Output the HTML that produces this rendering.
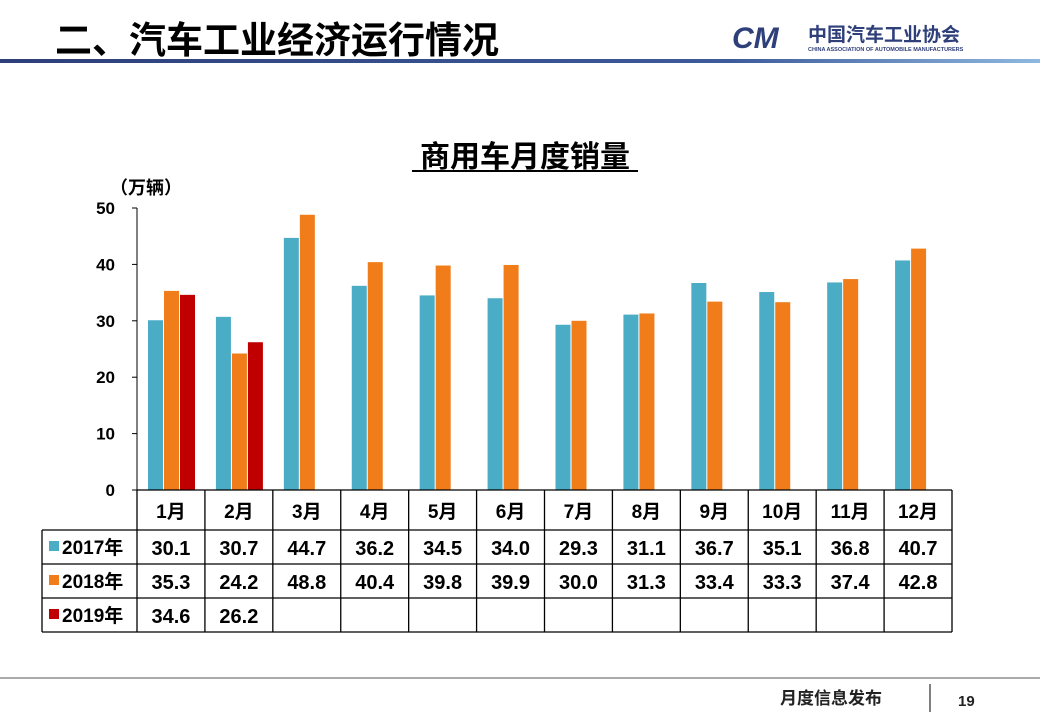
<!DOCTYPE html>
<html><head><meta charset="utf-8"><style>
body{margin:0;width:1040px;height:720px;background:#fff;overflow:hidden;font-family:"Liberation Sans","Noto Sans CJK SC",sans-serif;}
svg text{font-family:"Liberation Sans","Noto Sans CJK SC",sans-serif;font-weight:bold;}
</style></head><body>
<svg width="1040" height="720">
<defs><linearGradient id="hg" x1="0" x2="1"><stop offset="0" stop-color="#2e3f7a"/><stop offset="0.7" stop-color="#3d5a9a"/><stop offset="1" stop-color="#8fb8e0"/></linearGradient></defs>
<text x="55" y="53" font-size="37" fill="#000">二、汽车工业经济运行情况</text>
<rect x="0" y="59" width="1040" height="4" fill="url(#hg)"/>
<g>
<text x="732" y="48" font-size="30" fill="#2e3f7a" font-style="italic">CM</text>
<text x="808" y="41" font-size="19" fill="#2e3f7a">中国汽车工业协会</text>
<text x="808" y="51" font-size="5.5" fill="#2e3f7a" font-weight="normal">CHINA ASSOCIATION OF AUTOMOBILE MANUFACTURERS</text>
</g>
<text x="525" y="167" font-size="30" text-anchor="middle">商用车月度销量</text>
<line x1="412" y1="171" x2="638" y2="171" stroke="#000" stroke-width="2"/>
<text x="110" y="194" font-size="18">（万辆）</text>
<g id="chart"></g>
<line x1="0" y1="678" x2="1040" y2="678" stroke="#555" stroke-width="1"/>
<text x="780" y="704" font-size="17" fill="#222">月度信息发布</text>
<line x1="930" y1="684" x2="930" y2="712" stroke="#555" stroke-width="1.5"/>
<text x="958" y="706" font-size="15" fill="#222">19</text>
</svg>
<script>
const categories=["1月","2月","3月","4月","5月","6月","7月","8月","9月","10月","11月","12月"];
const seriesNames=["2017年","2018年","2019年"];
const colors=["#4bacc6","#f07d1a","#c00000"];
const s2017=[30.1,30.7,44.7,36.2,34.5,34.0,29.3,31.1,36.7,35.1,36.8,40.7];
const s2018=[35.3,24.2,48.8,40.4,39.8,39.9,30.0,31.3,33.4,33.3,37.4,42.8];
const s2019=[34.6,26.2];
const yTicks=[0,10,20,30,40,50];
const NS="http://www.w3.org/2000/svg";
const g=document.getElementById('chart');
const x0=137,x1=952,yTop=208,yBot=490,yMax=50;
const cw=(x1-x0)/categories.length;
const y=v=>yBot-(v/yMax)*(yBot-yTop);
const xc=i=>x0+i*cw;
function mk(t,a,p){const e=document.createElementNS(NS,t);for(const k in a)e.setAttribute(k,a[k]);(p||g).appendChild(e);return e;}
yTicks.forEach(t=>{
 const l=mk('line',{x1:x0-5,x2:x0,y1:y(t),y2:y(t),stroke:'#000'});
 
 
 const tx=mk('text',{x:x0-22,y:y(t)+6,'font-size':17,'text-anchor':'end'});tx.textContent=t;
 
 
});
const all=[s2017,s2018,s2019];
all.forEach((s,si)=>{s.forEach((v,i)=>{
 const r=mk('rect',{x:xc(i)+11+si*16,y:y(v),width:15,height:yBot-y(v),fill:colors[si]});
 
 
});});
mk('line',{x1:x0,x2:x0,y1:yTop,y2:yBot,stroke:'#000'});
const rowY=[490,530,564,598,632];
const tl={stroke:'#000','stroke-width':1.3};
mk('line',Object.assign({x1:x0,x2:x1,y1:490,y2:490},tl));
mk('line',Object.assign({x1:42,x2:x1,y1:530,y2:530},tl));
mk('line',Object.assign({x1:42,x2:x1,y1:564,y2:564},tl));
mk('line',Object.assign({x1:42,x2:x1,y1:598,y2:598},tl));
mk('line',Object.assign({x1:42,x2:x1,y1:632,y2:632},tl));
mk('line',Object.assign({x1:42,x2:42,y1:530,y2:632},tl));
for(let i=0;i<=categories.length;i++)mk('line',Object.assign({x1:xc(i),x2:xc(i),y1:490,y2:632},tl));
categories.forEach((c,i)=>{const t=mk('text',{x:xc(i)+cw/2,y:518,'font-size':19,'text-anchor':'middle'});t.textContent=c;
 
 });
all.forEach((s,si)=>{
 const ry=rowY[si+1];
 const sw=mk('rect',{x:49,y:ry+11,width:10,height:10,fill:colors[si]});
 
 
 const lt=mk('text',{x:62,y:ry+24,'font-size':19});lt.textContent=seriesNames[si];
 
 
 s.forEach((v,i)=>{const t=mk('text',{x:xc(i)+cw/2,y:ry+25,'font-size':20,'text-anchor':'middle'});t.textContent=v.toFixed(1);
  
  });
});
</script>
</body></html>
